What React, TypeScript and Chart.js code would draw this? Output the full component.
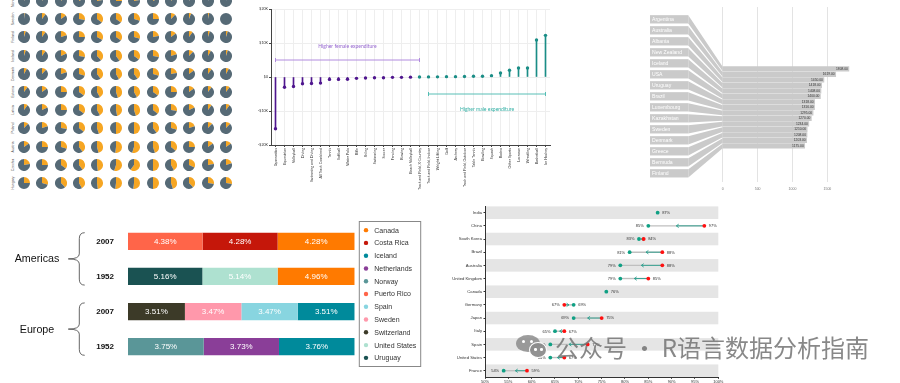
import React, { useEffect, useRef } from "react";
import { Chart, registerables } from "chart.js";
Chart.register(...registerables);

const SANS = "'Liberation Sans', Arial, Helvetica, sans-serif";
const LATO = "Lato, 'Liberation Sans', sans-serif";

// ---------- Panel 1: pie grid ----------
const pieRowNames = ["Norway", "Sweden", "Finland", "Iceland", "Denmark", "Estonia", "Latvia", "Poland", "Austria", "Czechia", "Hungary"];
const pieShares = [
  [0.08, 0.1, 0.12, 0.18, 0.22, 0.25, 0.22, 0.18, 0.12, 0.08, 0.05, 0.03],
  [0.02, 0.1, 0.15, 0.28, 0.35, 0.35, 0.3, 0.25, 0.12, 0.06, 0.03, 0.0],
  [0.05, 0.1, 0.2, 0.25, 0.33, 0.35, 0.3, 0.22, 0.15, 0.1, 0.05, 0.05],
  [0.05, 0.1, 0.18, 0.28, 0.38, 0.4, 0.35, 0.28, 0.2, 0.12, 0.08, 0.05],
  [0.08, 0.12, 0.2, 0.3, 0.4, 0.42, 0.4, 0.3, 0.22, 0.15, 0.1, 0.08],
  [0.1, 0.15, 0.25, 0.35, 0.42, 0.45, 0.42, 0.35, 0.25, 0.15, 0.1, 0.1],
  [0.1, 0.18, 0.25, 0.35, 0.42, 0.47, 0.45, 0.36, 0.28, 0.18, 0.1, 0.1],
  [0.12, 0.2, 0.28, 0.36, 0.45, 0.5, 0.5, 0.4, 0.3, 0.2, 0.12, 0.12],
  [0.15, 0.25, 0.3, 0.4, 0.46, 0.52, 0.55, 0.45, 0.36, 0.25, 0.15, 0.15],
  [0.22, 0.25, 0.35, 0.4, 0.48, 0.55, 0.6, 0.5, 0.42, 0.32, 0.22, 0.2],
  [0.25, 0.3, 0.38, 0.42, 0.48, 0.52, 0.52, 0.5, 0.45, 0.38, 0.28, 0.28],
];
const PIE_GREY = "#566a76";
const PIE_ORANGE = "#f6a623";

// ---------- Panel 2: lollipop ----------
const sports = ["Gymnastics", "Equestrian", "Volleyball", "Diving", "Swimming and Diving", "All Track Combined", "Tennis", "Softball", "Water Polo", "Rifle", "Skiing", "Swimming", "Soccer", "Fencing", "Rowing", "Beach Volleyball", "Track and Field, X-Country", "Track and Field, Indoor", "Weight Lifting", "Golf", "Archery", "Track and Field, Outdoor", "Table Tennis", "Bowling", "Squash", "Rodeo", "Other Sports", "Lacrosse", "Wrestling", "Basketball", "Ice Hockey"];
const spendGap = [-15200, -3000, -2800, -2000, -1900, -1800, -700, -700, -650, -400, -300, -200, -200, -100, -100, -50, 20, 30, 50, 100, 100, 150, 200, 200, 400, 1200, 2000, 2650, 2650, 10900, 12250];
const femaleSpan = [0, 16];
const maleSpan = [17, 30];
const PURPLE = "#4f168e";
const TEAL = "#1a8d86";

// ---------- Panel 3: labelled bars ----------
const countries3 = ["Argentina", "Australia", "Albania", "New Zealand", "Iceland", "USA", "Uruguay", "Brazil", "Luxembourg", "Kazakhstan", "Sweden", "Denmark", "Greece", "Bermuda", "Finland"];
const values3 = [1808, 1619, 1450, 1418, 1408, 1400, 1318, 1316, 1295, 1270, 1234, 1210, 1208, 1203, 1175];
const ticks3 = [0, 500, 1000, 1500];

// ---------- Panel 4: stacked shares ----------
const yearLabels = ["2007", "1952", "2007", "1952"];
const regionNames = ["Americas", "Europe"];
const amer2007Countries = ["Puerto Rico", "Costa Rica", "Canada"];
const amer2007Share = [32.9, 33.1, 34.0];
const amer2007Text = ["4.38%", "4.28%", "4.28%"];
const amer1952Countries = ["Uruguay", "United States", "Canada"];
const amer1952Share = [32.8, 33.2, 34.0];
const amer1952Text = ["5.16%", "5.14%", "4.96%"];
const euro2007Countries = ["Switzerland", "Sweden", "Spain", "Iceland"];
const euro2007Share = [25.1, 24.9, 24.9, 25.1];
const euro2007Text = ["3.51%", "3.47%", "3.47%", "3.51%"];
const euro1952Countries = ["Norway", "Netherlands", "Iceland"];
const euro1952Share = [33.4, 33.2, 33.4];
const euro1952Text = ["3.75%", "3.73%", "3.76%"];
const stackOrder = ["Puerto Rico", "Costa Rica", "Uruguay", "United States", "Canada", "Switzerland", "Sweden", "Spain", "Norway", "Netherlands", "Iceland"];
const legendCountries = ["Canada", "Costa Rica", "Iceland", "Netherlands", "Norway", "Puerto Rico", "Spain", "Sweden", "Switzerland", "United States", "Uruguay"];
const legendColors = ["#ff7a00", "#c5170a", "#008a9b", "#8a3e98", "#5a9698", "#ff6549", "#88d5e0", "#ff98ab", "#3c3a28", "#aee1d0", "#1a5252"];

// ---------- Panel 5: dumbbell ----------
const countries5 = ["India", "China", "South Korea", "Brazil", "Australia", "United Kingdom", "Canada", "Germany", "Japan", "Italy", "Spain", "United States", "France"];
const tealShare = [87, 85, 83, 81, 79, 79, 76, 69, 69, 65, 64, 64, 54];
const redShare = [null, 97, 84, 88, 88, 85, null, 67, 75, 67, 72, 67, 59];
const TEAL5 = "#10a084";
const RED5 = "#ff1010";

const base: any = {
  responsive: false,
  animation: false,
  events: [],
  plugins: { legend: { display: false }, tooltip: { enabled: false } },
};

function fmtK(v: any) {
  const n = Number(v);
  if (n === 0) return "$0";
  return (n < 0 ? "-" : "") + "$" + Math.abs(n) / 1000 + "K";
}

const lollipopNotes = {
  id: "lollipopNotes",
  afterDatasetsDraw(chart: any) {
    const { ctx, scales } = chart;
    const x = scales.x, y = scales.y;
    const bracket = (span: number[], v: number, color: string) => {
      const x0 = x.getPixelForValue(span[0]);
      const x1 = x.getPixelForValue(span[1]);
      const yy = y.getPixelForValue(v);
      ctx.save();
      ctx.strokeStyle = color;
      ctx.lineWidth = 0.9;
      ctx.beginPath();
      ctx.moveTo(x0, yy); ctx.lineTo(x1, yy);
      ctx.moveTo(x0, yy - 2); ctx.lineTo(x0, yy + 2);
      ctx.moveTo(x1, yy - 2); ctx.lineTo(x1, yy + 2);
      ctx.stroke();
      ctx.restore();
    };
    const label = (txt: string, idx: number, v: number, color: string) => {
      ctx.save();
      ctx.fillStyle = color;
      ctx.font = `5px ${LATO}`;
      ctx.textAlign = "center";
      ctx.textBaseline = "middle";
      ctx.fillText(txt, x.getPixelForValue(idx), y.getPixelForValue(v));
      ctx.restore();
    };
    bracket(femaleSpan, 5000, "#a97fdb");
    bracket(maleSpan, -5000, "#45b8ae");
    label("Higher female expenditure", 8, 9100, "#9566cf");
    label("Higher male expenditure", 23.5, -9400, "#34b0a5");
  },
};

function buildLollipop(): any {
  const colors = spendGap.map((v) => (v < 0 ? PURPLE : TEAL));
  return {
    type: "bar",
    data: {
      labels: sports,
      datasets: [
        { type: "line", data: spendGap, showLine: false, pointRadius: 1.7, pointBackgroundColor: colors, pointBorderWidth: 0, order: 0 },
        { type: "bar", data: spendGap, backgroundColor: colors, barThickness: 1, order: 1 },
      ],
    },
    options: {
      ...base,
      layout: { padding: { top: 9, right: 10, left: 0, bottom: 0 } },
      scales: {
        x: {
          grid: { color: "#eeeeee", offset: false, tickColor: "#444", tickLength: 2 },
          border: { color: "#444" },
          ticks: { autoSkip: false, maxRotation: 90, minRotation: 90, font: { size: 3.6, family: LATO }, color: "#333", padding: 1 },
          afterFit(s: any) { s.height = 55; },
        },
        y: {
          min: -20000, max: 20000,
          ticks: { stepSize: 10000, font: { size: 3.6, family: LATO }, color: "#333", padding: 1, callback: fmtK },
          grid: { color: "#eeeeee", tickColor: "#444", tickLength: 2 },
          border: { color: "#444" },
          afterFit(s: any) { s.width = 31; },
        },
      },
    },
    plugins: [lollipopNotes],
  };
}

const labelBarsDecor = {
  id: "labelBarsDecor",
  beforeDatasetsDraw(chart: any) {
    const { ctx, chartArea, scales } = chart;
    const yl = scales.yl, yb = scales.y, x = scales.x;
    const boxL = chartArea.left, boxR = chartArea.left + 38.3;
    const x0 = x.getPixelForValue(0);
    const boxH = 8.3, barH = 4.6;
    ctx.save();
    countries3.forEach((name, i) => {
      const ly = yl.getPixelForValue(i);
      const by = yb.getPixelForValue(i);
      ctx.fillStyle = "#cacaca";
      ctx.fillRect(boxL, ly - boxH / 2, boxR - boxL, boxH);
      ctx.beginPath();
      ctx.moveTo(boxR, ly - boxH / 2);
      ctx.lineTo(x0, by - barH / 2);
      ctx.lineTo(x0, by + barH / 2);
      ctx.lineTo(boxR, ly + boxH / 2);
      ctx.closePath();
      ctx.fill();
      ctx.fillStyle = "#ffffff";
      ctx.font = `5.1px ${SANS}`;
      ctx.textAlign = "left";
      ctx.textBaseline = "middle";
      ctx.fillText(name, boxL + 2, ly + 0.3);
    });
    ctx.restore();
  },
  afterDatasetsDraw(chart: any) {
    const { ctx } = chart;
    const meta = chart.getDatasetMeta(0);
    ctx.save();
    ctx.fillStyle = "#333";
    ctx.font = `3.3px ${SANS}`;
    ctx.textAlign = "right";
    ctx.textBaseline = "middle";
    meta.data.forEach((el: any, i: number) => {
      ctx.fillText(values3[i].toFixed(2), el.x - 1, el.y);
    });
    ctx.restore();
  },
};

function buildLabelBars(): any {
  const k = 34.9 / 500;
  const minX = -(72.7 / k);
  const maxX = minX + 230 / k;
  return {
    type: "bar",
    data: {
      datasets: [
        { data: values3.map((v, i) => ({ x: v, y: i })), backgroundColor: "#cacaca", barThickness: 4.6, xAxisID: "x", yAxisID: "y" },
      ],
    },
    options: {
      ...base,
      indexAxis: "y",
      layout: { padding: { top: 7, right: 20, left: 10, bottom: 0 } },
      scales: {
        x: {
          type: "linear", min: minX, max: maxX, offset: false,
          afterBuildTicks(s: any) { s.ticks = ticks3.map((v) => ({ value: v })); },
          grid: { color: "#e3e3e3", drawTicks: false },
          border: { display: false },
          ticks: { font: { size: 3.5, family: SANS }, color: "#777", padding: 5, callback: (v: any) => String(v) },
          afterFit(s: any) { s.height = 18; },
        },
        y: { type: "linear", display: false, offset: false, reverse: true, min: -11.27, max: 20.55 },
        yl: { type: "linear", axis: "y", display: false, offset: false, reverse: true, min: -1.12, max: 14.79 },
      },
    },
    plugins: [labelBarsDecor],
  };
}

const stackRows = [
  { countries: amer2007Countries, shares: amer2007Share, text: amer2007Text },
  { countries: amer1952Countries, shares: amer1952Share, text: amer1952Text },
  { countries: euro2007Countries, shares: euro2007Share, text: euro2007Text },
  { countries: euro1952Countries, shares: euro1952Share, text: euro1952Text },
];

const stackDecor = {
  id: "stackDecor",
  afterDatasetsDraw(chart: any) {
    const { ctx } = chart;
    ctx.save();
    ctx.font = `8px ${SANS}`;
    ctx.fillStyle = "#ffffff";
    ctx.textAlign = "center";
    ctx.textBaseline = "middle";
    chart.data.datasets.forEach((ds: any, di: number) => {
      const meta = chart.getDatasetMeta(di);
      meta.data.forEach((el: any, ri: number) => {
        if (ds.data[ri] == null) return;
        const c = el.getCenterPoint();
        ctx.fillText(ds.texts[ri], c.x, c.y + 0.5);
      });
    });
    ctx.restore();
  },
  afterDraw(chart: any) {
    const { ctx, chartArea, scales } = chart;
    const y = scales.y;
    const half = (y.getPixelForValue(1) - y.getPixelForValue(0)) * 0.493 / 2;
    ctx.save();
    regionNames.forEach((name, g) => {
      const yTop = y.getPixelForValue(g * 2) - half;
      const yBot = y.getPixelForValue(g * 2 + 1) + half;
      const yMid = (yTop + yBot) / 2;
      const xEnd = 84.7, xBody = 79.3, xTip = 68.3;
      ctx.strokeStyle = "#555";
      ctx.lineWidth = 0.9;
      ctx.beginPath();
      ctx.moveTo(xEnd, yTop);
      ctx.quadraticCurveTo(xBody, yTop, xBody, yTop + 6);
      ctx.lineTo(xBody, yMid - 5);
      ctx.quadraticCurveTo(xBody, yMid, xTip, yMid);
      ctx.quadraticCurveTo(xBody, yMid, xBody, yMid + 5);
      ctx.lineTo(xBody, yBot - 6);
      ctx.quadraticCurveTo(xBody, yBot, xEnd, yBot);
      ctx.stroke();
      ctx.fillStyle = "#111";
      ctx.font = `10.7px ${SANS}`;
      ctx.textAlign = "center";
      ctx.textBaseline = "middle";
      ctx.fillText(name, 37, yMid + 0.5);
    });
    const boxL = chartArea.right + 4.6;
    const boxW = 61.4;
    const step = 12.77;
    const boxH = 145;
    const midY = (chartArea.top + chartArea.bottom) / 2;
    const top = midY - boxH / 2;
    ctx.strokeStyle = "#888";
    ctx.lineWidth = 1;
    ctx.strokeRect(boxL, top, boxW, boxH);
    const first = midY - (step * (legendCountries.length - 1)) / 2;
    legendCountries.forEach((name, i) => {
      const yy = first + i * step;
      ctx.fillStyle = legendColors[i];
      ctx.beginPath();
      ctx.arc(boxL + 6.7, yy, 2.2, 0, Math.PI * 2);
      ctx.fill();
      ctx.fillStyle = "#333";
      ctx.font = `7px ${SANS}`;
      ctx.textAlign = "left";
      ctx.textBaseline = "middle";
      ctx.fillText(name, boxL + 15, yy + 0.5);
    });
    ctx.restore();
  },
};

function buildStack(): any {
  const datasets = stackOrder.map((country) => {
    const data = stackRows.map((r) => {
      const idx = r.countries.indexOf(country);
      return idx >= 0 ? r.shares[idx] : null;
    });
    const texts = stackRows.map((r) => {
      const idx = r.countries.indexOf(country);
      return idx >= 0 ? r.text[idx] : "";
    });
    return {
      label: country,
      data,
      texts,
      backgroundColor: legendColors[legendCountries.indexOf(country)],
      borderWidth: 0,
      barPercentage: 0.493,
      categoryPercentage: 1,
      stack: "s",
    };
  });
  return {
    type: "bar",
    data: { labels: yearLabels, datasets },
    options: {
      ...base,
      indexAxis: "y",
      layout: { padding: { top: 5.3, bottom: 4.7, right: 95.3, left: 0 } },
      scales: {
        x: { stacked: true, min: 0, max: 100, display: false },
        y: {
          stacked: true,
          grid: { display: false, drawTicks: false },
          border: { display: false },
          ticks: { font: { size: 8, weight: "bold", family: SANS }, color: "#111", padding: 14 },
          afterFit(s: any) { s.width = 128; },
        },
      },
    },
    plugins: [stackDecor],
  };
}

const dumbbellDecor = {
  id: "dumbbellDecor",
  beforeDraw(chart: any) {
    const { ctx, chartArea, scales } = chart;
    const y = scales.y;
    const step = y.getPixelForValue(1) - y.getPixelForValue(0);
    ctx.save();
    ctx.fillStyle = "#e5e5e5";
    countries5.forEach((_, i) => {
      if (i % 2 !== 0) return;
      const yc = y.getPixelForValue(i);
      ctx.fillRect(chartArea.left, yc - (step - 0.6) / 2, chartArea.right - chartArea.left, step - 0.6);
    });
    ctx.restore();
  },
  beforeDatasetsDraw(chart: any) {
    const { ctx, scales } = chart;
    const x = scales.x, y = scales.y;
    ctx.save();
    countries5.forEach((_, i) => {
      const r = redShare[i];
      if (r == null) return;
      const xa = x.getPixelForValue(tealShare[i]);
      const xb = x.getPixelForValue(r);
      const yc = y.getPixelForValue(i);
      const mid = (xa + xb) / 2;
      const dir = Math.sign(xb - xa);
      ctx.strokeStyle = "#bfbfbf";
      ctx.lineWidth = 1.4;
      ctx.beginPath(); ctx.moveTo(xa, yc); ctx.lineTo(xb, yc); ctx.stroke();
      ctx.strokeStyle = "#2a9f8d";
      ctx.lineWidth = 0.9;
      ctx.beginPath(); ctx.moveTo(mid, yc); ctx.lineTo(xb, yc); ctx.stroke();
      ctx.beginPath();
      ctx.moveTo(mid + dir * 2.4, yc - 1.7);
      ctx.lineTo(mid, yc);
      ctx.lineTo(mid + dir * 2.4, yc + 1.7);
      ctx.stroke();
    });
    ctx.restore();
  },
  afterDatasetsDraw(chart: any) {
    const { ctx, scales } = chart;
    const x = scales.x, y = scales.y;
    ctx.save();
    ctx.fillStyle = "#333";
    ctx.font = `4px ${SANS}`;
    ctx.textBaseline = "middle";
    countries5.forEach((_, i) => {
      const t = tealShare[i];
      const r = redShare[i];
      const yc = y.getPixelForValue(i) + 0.3;
      if (r == null) {
        ctx.textAlign = "left";
        ctx.fillText(`${t}%`, x.getPixelForValue(t) + 4.5, yc);
        return;
      }
      const lo = Math.min(t, r), hi = Math.max(t, r);
      ctx.textAlign = "right";
      ctx.fillText(`${lo}%`, x.getPixelForValue(lo) - 4.5, yc);
      ctx.textAlign = "left";
      ctx.fillText(`${hi}%`, x.getPixelForValue(hi) + 4.5, yc);
    });
    ctx.restore();
  },
};

function buildDumbbell(): any {
  const redPts: any[] = [];
  redShare.forEach((v, i) => { if (v != null) redPts.push({ x: v, y: countries5[i] }); });
  return {
    type: "scatter",
    data: {
      datasets: [
        { data: redPts, pointRadius: 1.9, backgroundColor: RED5, borderWidth: 0, order: 0 },
        { data: tealShare.map((v, i) => ({ x: v, y: countries5[i] })), pointRadius: 1.9, backgroundColor: TEAL5, borderWidth: 0, order: 1 },
      ],
    },
    options: {
      ...base,
      layout: { padding: { top: 6.1, right: 181.7, left: 0, bottom: 0 } },
      scales: {
        x: {
          type: "linear", min: 50, max: 100,
          ticks: { stepSize: 5, callback: (v: any) => `${v}%`, font: { size: 4, family: SANS }, color: "#333", padding: 0.5 },
          grid: { drawOnChartArea: false, tickColor: "#333", tickLength: 1.5 },
          border: { color: "#333" },
          afterFit(s: any) { s.height = 5.7; },
        },
        y: {
          type: "category", labels: countries5, offset: true,
          ticks: { font: { size: 4.2, family: SANS }, color: "#333", padding: 1.5 },
          grid: { drawOnChartArea: false, tickColor: "#333", tickLength: 1.5 },
          border: { color: "#333" },
          afterFit(s: any) { s.width = 35; },
        },
      },
    },
    plugins: [dumbbellDecor],
  };
}

function ChartBox({ x, y, w, h, build }: any) {
  const ref = useRef<HTMLCanvasElement | null>(null);
  useEffect(() => {
    const chart = new Chart(ref.current as HTMLCanvasElement, build());
    return () => chart.destroy();
  }, [build]);
  return <canvas ref={ref} width={w} height={h} style={{ position: "absolute", left: x, top: y, width: w, height: h }} />;
}

const PIE_D = 12;
function PieCell({ share, cx, cy }: any) {
  const ref = useRef<HTMLCanvasElement | null>(null);
  useEffect(() => {
    const chart = new Chart(ref.current as HTMLCanvasElement, {
      type: "pie",
      data: { labels: ["orange", "grey"], datasets: [{ data: [share, 1 - share], backgroundColor: [PIE_ORANGE, PIE_GREY], borderWidth: 0 }] },
      options: { ...base },
    } as any);
    return () => chart.destroy();
  }, [share]);
  return <canvas ref={ref} width={PIE_D} height={PIE_D} style={{ position: "absolute", left: cx - PIE_D / 2, top: cy - PIE_D / 2, width: PIE_D, height: PIE_D }} />;
}

function PieGrid() {
  const cells: any[] = [];
  pieShares.forEach((row, r) => {
    row.forEach((s, c) => {
      cells.push(<PieCell key={`${r}-${c}`} share={s} cx={24 + c * 18.36} cy={1 + r * 18.2} />);
    });
  });
  return (
    <div style={{ position: "absolute", left: 0, top: 0, width: 240, height: 195, overflow: "hidden" }}>
      {cells}
      {pieRowNames.map((n, r) => (
        <div key={n} style={{ position: "absolute", left: 13, top: 1 + r * 18.2, transform: "translate(-50%,-50%) rotate(-90deg) scale(0.5)", fontSize: 7, fontFamily: SANS, color: "#555", whiteSpace: "nowrap", lineHeight: "8px" }}>{n}</div>
      ))}
    </div>
  );
}

export default function App() {
  return (
    <div style={{ position: "fixed", left: 0, top: 0, width: 900, height: 383, overflow: "hidden", background: "#fff" }}>
      <PieGrid />
      <ChartBox x={240} y={0} w={320} h={200} build={buildLollipop} />
      <ChartBox x={640} y={0} w={260} h={200} build={buildLabelBars} />
      <ChartBox x={0} y={205} w={450} h={178} build={buildStack} />
      <ChartBox x={450} y={200} w={450} h={183} build={buildDumbbell} />
      {/* watermark */}
      <div style={{ position: "absolute", left: 516, top: 335, width: 24, height: 17, borderRadius: "50%", background: "rgba(140,140,140,0.85)" }} />
      <div style={{ position: "absolute", left: 522, top: 340, width: 3, height: 3, borderRadius: "50%", background: "#fff" }} />
      <div style={{ position: "absolute", left: 530, top: 340, width: 3, height: 3, borderRadius: "50%", background: "#fff" }} />
      <div style={{ position: "absolute", left: 529, top: 342, width: 18, height: 16, borderRadius: "50%", background: "rgba(140,140,140,0.95)", border: "1.5px solid #fff", boxSizing: "border-box" }} />
      <div style={{ position: "absolute", left: 534, top: 348, width: 2.5, height: 2.5, borderRadius: "50%", background: "#fff" }} />
      <div style={{ position: "absolute", left: 540, top: 348, width: 2.5, height: 2.5, borderRadius: "50%", background: "#fff" }} />
      <div style={{ position: "absolute", left: 555, top: 333, fontFamily: "'Noto Sans CJK SC', sans-serif", fontSize: 24, lineHeight: "28px", color: "rgba(115,115,115,0.85)", whiteSpace: "nowrap" }}>公众号 · R语言数据分析指南</div>
    </div>
  );
}
